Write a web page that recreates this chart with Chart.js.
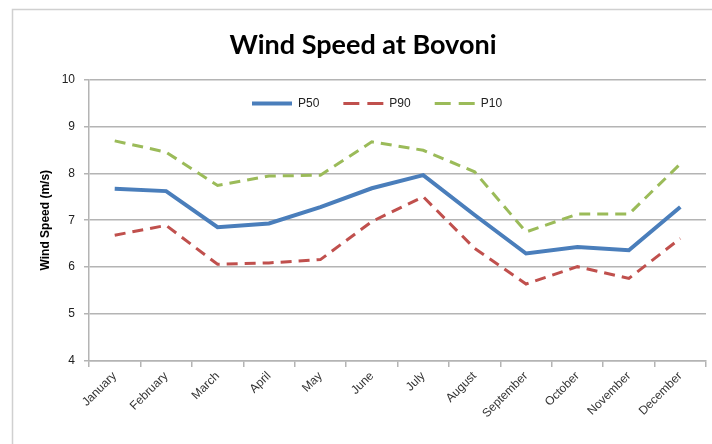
<!DOCTYPE html>
<html>
<head>
<meta charset="utf-8">
<script src="https://cdn.jsdelivr.net/npm/chart.js@4"></script>
<style>
  html, body { margin: 0; padding: 0; background: #fff; }
  #wrap { width: 712px; height: 444px; }
</style>
</head>
<body>
<div id="wrap"><canvas id="windChart" width="712" height="444"></canvas></div>
<script>
const months = ["January", "February", "March", "April", "May", "June", "July", "August", "September", "October", "November", "December"];
const p50 = [7.67, 7.62, 6.85, 6.93, 7.28, 7.68, 7.96, 7.11, 6.29, 6.43, 6.36, 7.28];
const p90 = [6.68, 6.89, 6.06, 6.09, 6.16, 6.97, 7.50, 6.40, 5.64, 6.01, 5.76, 6.61];
const p10 = [8.69, 8.45, 7.74, 7.94, 7.96, 8.67, 8.49, 8.03, 6.75, 7.13, 7.13, 8.20];
const yTicks = [4, 5, 6, 7, 8, 9, 10];

const gridColor = "#b4b4b4";
const textFont = "'Liberation Sans Narrow', 'Liberation Sans', sans-serif";
const legendPad = 24;
const legendStartX = 252;

const framePlugin = {
  id: "frame",
  beforeLayout(chart) {
    // keep the in-plot legend on one row
    if (chart.legend) chart.legend.isHorizontal = () => true;
  },
  afterLayout(chart) {
    const lg = chart.legend;
    if (!lg || !lg.lineWidths) return;
    lg.left = legendStartX - legendPad;
    lg.right = lg.left + legendPad + lg.lineWidths[0];
    lg.width = lg.right - lg.left;
    lg.top -= 6;
    lg.bottom -= 6;
  },
  beforeDraw(chart) {
    // white background and light frame like the Excel chart border
    const ctx = chart.ctx;
    ctx.save();
    ctx.fillStyle = "#fff";
    ctx.fillRect(0, 0, chart.width, chart.height);
    ctx.strokeStyle = "#d0d0d0";
    ctx.lineWidth = 1.5;
    ctx.strokeRect(12.5, 9.5, 900, 600);
    ctx.restore();
  }
};

const ctx = document.getElementById("windChart").getContext("2d");
new Chart(ctx, {
  type: "line",
  data: {
    labels: months,
    datasets: [
      { label: "P50", data: p50, borderColor: "#4a7ebb", backgroundColor: "#4a7ebb", borderWidth: 4, pointRadius: 0, tension: 0 },
      { label: "P90", data: p90, borderColor: "#c0504d", backgroundColor: "#c0504d", borderWidth: 3, borderDash: [11, 7], pointRadius: 0, tension: 0 },
      { label: "P10", data: p10, borderColor: "#9bbb59", backgroundColor: "#9bbb59", borderWidth: 3, borderDash: [11, 7], pointRadius: 0, tension: 0 }
    ]
  },
  options: {
    responsive: false,
    animation: false,
    layout: { padding: { left: 20, right: 6, top: 0, bottom: 0 } },
    plugins: {
      title: {
        display: true,
        text: "Wind Speed at Bovoni",
        color: "#000",
        font: { family: "Lato, 'Liberation Sans', sans-serif", size: 27, weight: "bold" },
        padding: { top: 29, bottom: 18 }
      },
      legend: {
        position: "chartArea",
        align: "center",
        labels: {
          usePointStyle: true,
          pointStyle: "line",
          pointStyleWidth: 40,
          boxWidth: 40,
          boxHeight: 12,
          padding: legendPad,
          color: "#222",
          font: { family: textFont, size: 12 },
          generateLabels(chart) {
            const items = Chart.defaults.plugins.legend.labels.generateLabels(chart);
            items.forEach(it => {
              const ds = chart.data.datasets[it.datasetIndex];
              it.lineDash = ds.borderDash ? [16, 8] : [];
              it.lineWidth = ds.borderWidth;
              it.strokeStyle = ds.borderColor;
            });
            return items;
          }
        }
      },
      tooltip: { enabled: false }
    },
    scales: {
      x: {
        offset: true,
        grid: { offset: true, drawOnChartArea: false, color: gridColor, tickLength: 6, lineWidth: 1.5 },
        border: { color: gridColor, width: 1.5 },
        ticks: { color: "#333", font: { family: textFont, size: 12 }, maxRotation: 45, minRotation: 45, padding: 2 },
        afterFit(scale) { scale.height = 83; }
      },
      y: {
        min: 4,
        max: 10,
        afterBuildTicks(scale) { scale.ticks = yTicks.map(v => ({ value: v })); },
        grid: { color: gridColor, lineWidth: 1.5, tickLength: 5 },
        border: { color: gridColor, width: 1.5 },
        ticks: { color: "#222", font: { family: textFont, size: 12 }, padding: 9 },
        title: {
          display: true,
          text: "Wind Speed (m/s)",
          color: "#000",
          font: { family: textFont, size: 12, weight: "bold" },
          padding: { top: 18, bottom: 0 }
        },
        afterFit(scale) { scale.width = 69; }
      }
    }
  },
  plugins: [framePlugin]
});
</script>
</body>
</html>
